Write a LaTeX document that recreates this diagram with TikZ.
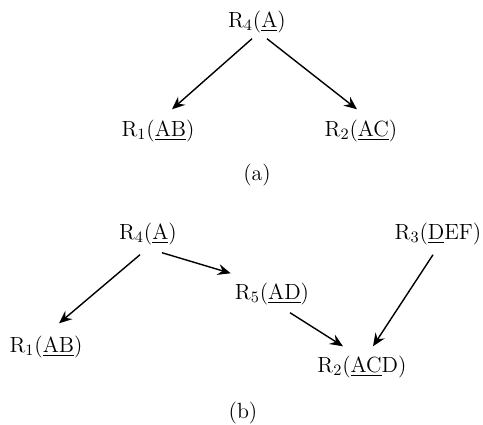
\documentclass[tikz,border=0pt]{standalone}
\usepackage{tikz}
\usetikzlibrary{arrows.meta}

\begin{document}
\begin{tikzpicture}[x=0.02cm,y=-0.02cm,line width=0.8pt,>={Stealth[length=2.6mm,width=2.2mm,inset=0.9mm]},
  rel/.style={inner sep=2pt,font=\fontsize{12.5}{15}\selectfont}]
  \useasboundingbox (0,0) rectangle (483,424);
  % (a) jerarquia inicial
  \node[rel] (r4a) at (257,22) {R$_4$(\underline{A})};
  \node[rel] (r1a) at (158,131) {R$_1$(\underline{AB})};
  \node[rel] (r2a) at (361,131) {R$_2$(\underline{AC})};
  \node[rel] (capa) at (257,175) {(a)};
  \draw[->] ([xshift=-0.1cm,yshift=-0.03cm]r4a.south)--([xshift=0.28cm,yshift=0.13cm]r1a.north);
  \draw[->] ([xshift=0.2cm,yshift=-0.03cm]r4a.south)--([xshift=-0.08cm,yshift=0.13cm]r2a.north);
  % (b) tras la reestructuracion
  \node[rel] (r4b) at (148,234) {R$_4$(\underline{A})};
  \node[rel] (r3b) at (438,234) {R$_3$(\underline{D}EF)};
  \node[rel] (r5b) at (272,294) {R$_5$(\underline{AD})};
  \node[rel] (r1b) at (46,347) {R$_1$(\underline{AB})};
  \node[rel] (r2b) at (362,367) {R$_2$(\underline{AC}D)};
  \node[rel] (capb) at (243,413) {(b)};
  \draw[->] ([xshift=-0.16cm,yshift=-0.11cm]r4b.south)--([xshift=0.26cm,yshift=0.17cm]r1b.north);
  \draw[->] ([xshift=0.28cm,yshift=-0.07cm]r4b.south)--([yshift=0.11cm]r5b.north west);
  \draw[->] ([xshift=0.36cm,yshift=-0.07cm]r5b.south)--([xshift=-0.38cm,yshift=0.11cm]r2b.north);
  \draw[->] ([xshift=-0.1cm,yshift=-0.11cm]r3b.south)--([xshift=0.22cm,yshift=0.11cm]r2b.north);
\end{tikzpicture}
\end{document}
